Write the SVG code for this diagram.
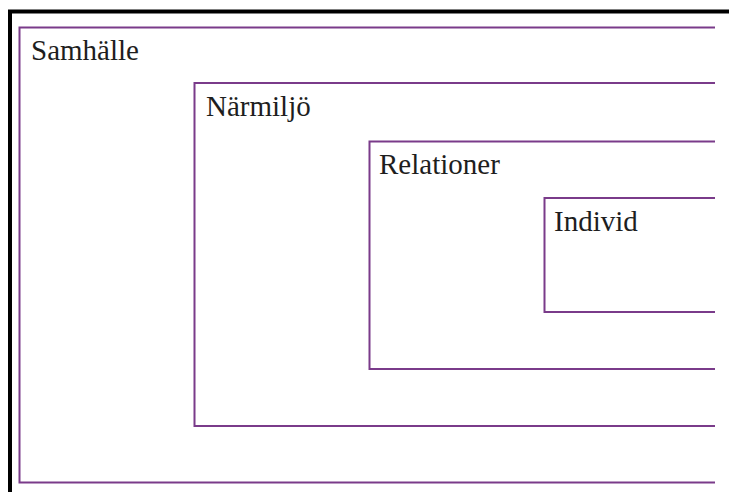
<svg xmlns="http://www.w3.org/2000/svg" width="729" height="492" viewBox="0 0 729 492">
<style>
.box{fill:none;stroke:#7a3b8a;stroke-width:2}
.lbl{font-family:"Liberation Serif","Times New Roman",serif;font-size:29px;fill:#1e1e1e}
.frame{fill:none;stroke:#000;stroke-width:4}
</style>
<rect width="729" height="492" fill="#fff"/>
<path class="frame" d="M10 492 V11.5 H729"/>
<g id="samhalle">
<path class="box" d="M715 27.5 H19.5 V482.5 H715"/>
<text class="lbl" x="31" y="60">Samhälle</text>
</g>
<g id="narmiljo">
<path class="box" d="M715 83 H194.5 V426 H715"/>
<text class="lbl" x="206" y="116">Närmiljö</text>
</g>
<g id="relationer">
<path class="box" d="M715 141.5 H369.5 V369 H715"/>
<text class="lbl" x="379" y="174">Relationer</text>
</g>
<g id="individ">
<path class="box" d="M715 198 H544.5 V312 H715"/>
<text class="lbl" x="554" y="231">Individ</text>
</g>
<g id="connectors"/>
</svg>
